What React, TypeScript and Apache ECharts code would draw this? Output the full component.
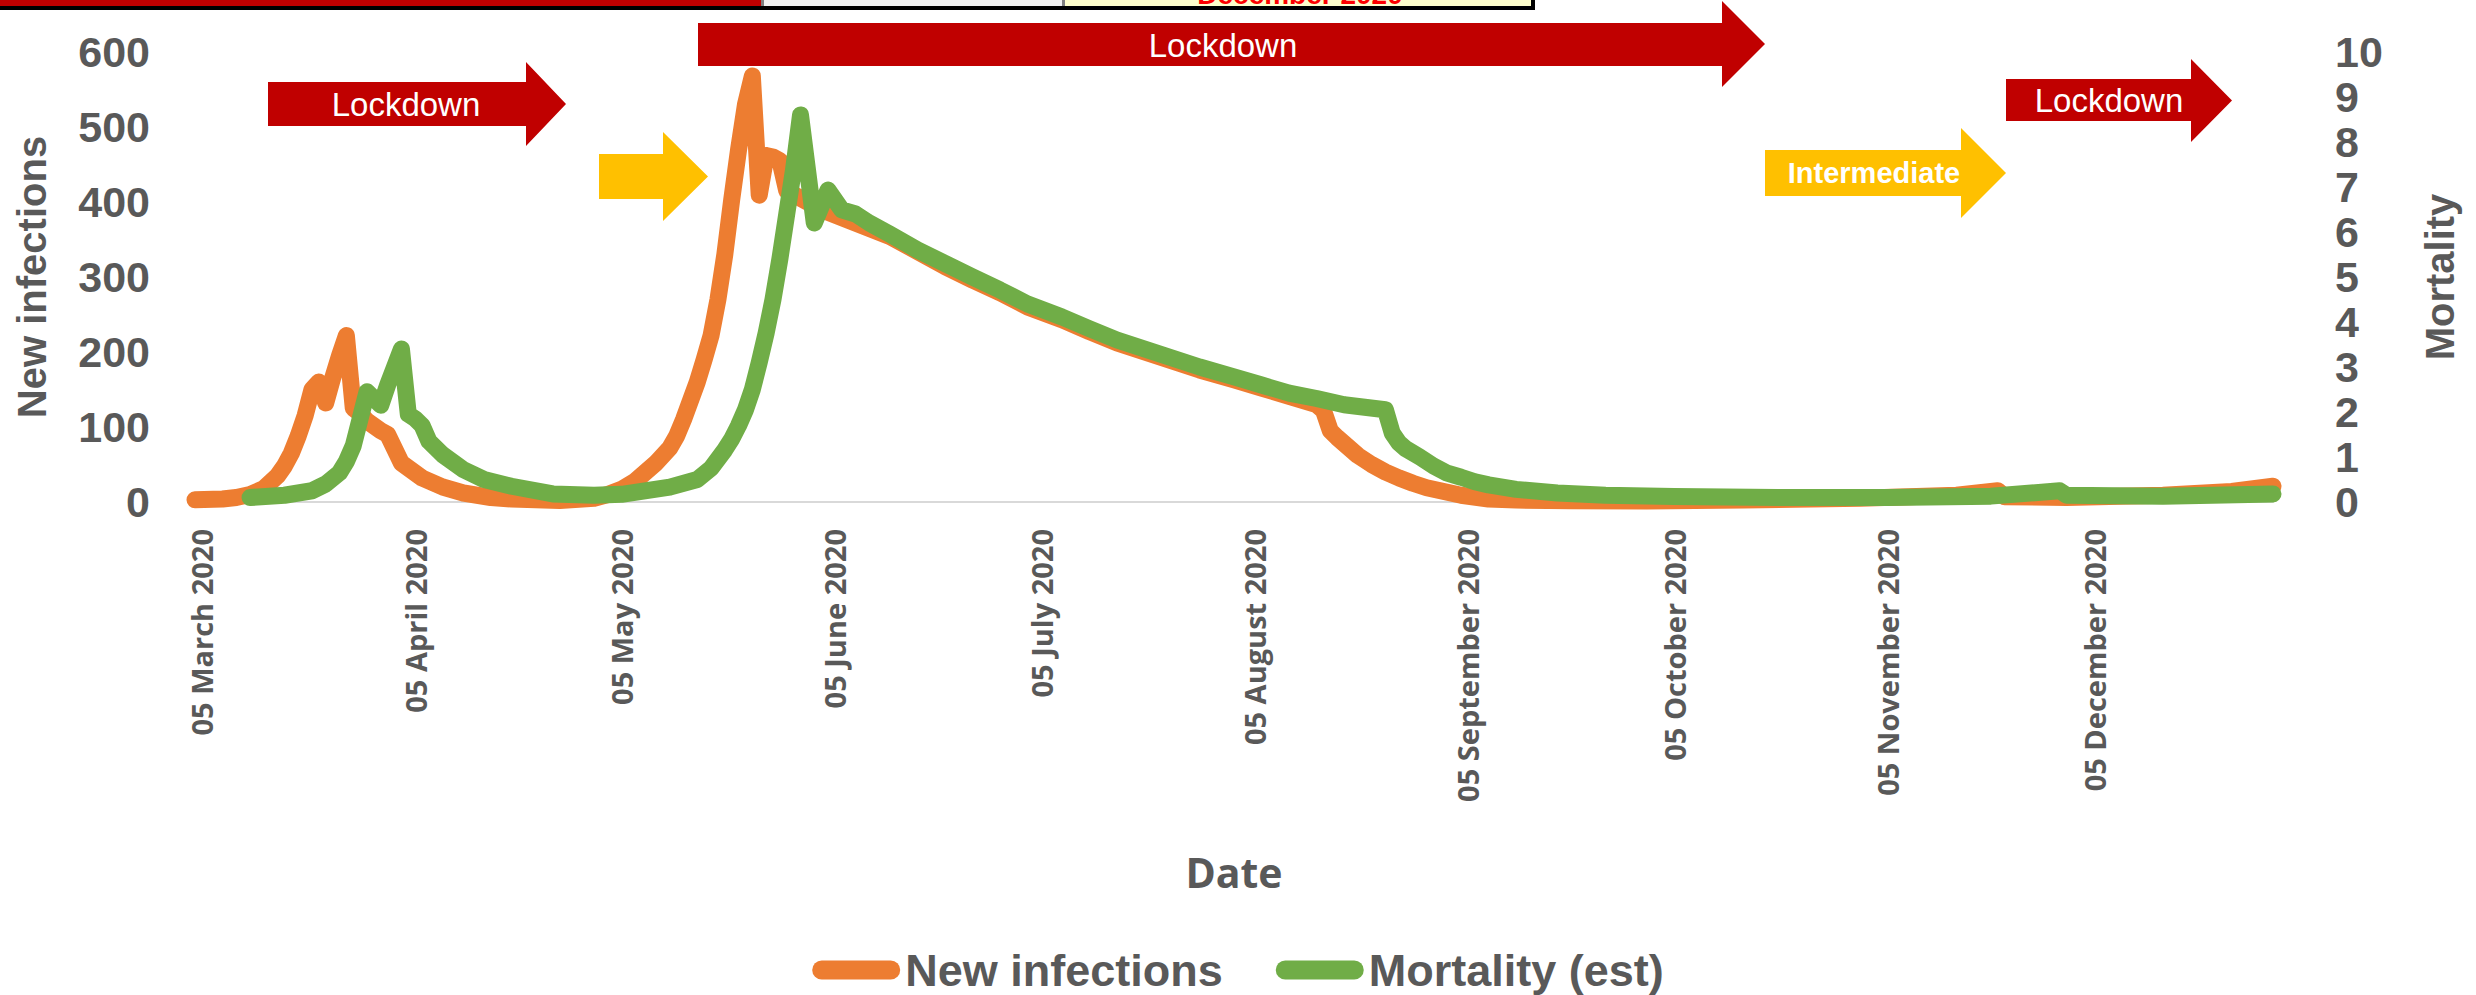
import React, { useEffect, useRef } from 'react';
import * as echarts from 'echarts';

// ---- data ----
const infectionDates = [
  '2020-03-04', '2020-03-08', '2020-03-10', '2020-03-12', '2020-03-14', '2020-03-16', '2020-03-17', '2020-03-18',
  '2020-03-19', '2020-03-20', '2020-03-21', '2020-03-22', '2020-03-23', '2020-03-24', '2020-03-25', '2020-03-26',
  '2020-03-27', '2020-03-28', '2020-03-29', '2020-03-31', '2020-04-01', '2020-04-03', '2020-04-06', '2020-04-09',
  '2020-04-12', '2020-04-16', '2020-04-19', '2020-04-26', '2020-05-01', '2020-05-03', '2020-05-05', '2020-05-07',
  '2020-05-10', '2020-05-12', '2020-05-13', '2020-05-14', '2020-05-15', '2020-05-16', '2020-05-17', '2020-05-18',
  '2020-05-19', '2020-05-20', '2020-05-21', '2020-05-22', '2020-05-23', '2020-05-24', '2020-05-25', '2020-05-26',
  '2020-05-27', '2020-05-28', '2020-05-29', '2020-06-03', '2020-06-08', '2020-06-13', '2020-06-17', '2020-06-21',
  '2020-06-25', '2020-06-29', '2020-07-03', '2020-07-08', '2020-07-12', '2020-07-16', '2020-07-20', '2020-07-24',
  '2020-07-28', '2020-08-02', '2020-08-06', '2020-08-10', '2020-08-14', '2020-08-15', '2020-08-16', '2020-08-17',
  '2020-08-18', '2020-08-20', '2020-08-22', '2020-08-24', '2020-08-26', '2020-08-28', '2020-08-30', '2020-09-01',
  '2020-09-04', '2020-09-08', '2020-09-12', '2020-09-20', '2020-10-01', '2020-10-15', '2020-11-01', '2020-11-15',
  '2020-11-21', '2020-11-22', '2020-12-01', '2020-12-15', '2020-12-25', '2020-12-31',
];
const infectionValues = [
  3, 4, 6, 10, 18, 35, 48, 65,
  88, 115, 150, 160, 132, 165, 195, 222,
  125, 118, 108, 95, 90, 52, 32, 20,
  12, 6, 4, 2, 5, 10, 17, 28,
  52, 72, 88, 110, 135, 160, 190, 222,
  270, 330, 403, 470, 530, 568, 409, 462,
  460, 455, 415, 390, 372, 354, 334, 314,
  296, 279, 260, 243, 227, 212, 200, 188,
  176, 163, 152, 141, 130, 122, 95, 86,
  78, 62, 50, 40, 32, 25, 19, 15,
  9, 4, 2.5, 1.5, 1.5, 2.5, 5, 9,
  15, 7, 6, 9, 14, 21,
];

const mortalityDates = [
  '2020-03-12', '2020-03-17', '2020-03-21', '2020-03-23', '2020-03-25', '2020-03-26', '2020-03-27', '2020-03-28',
  '2020-03-29', '2020-03-30', '2020-03-31', '2020-04-01', '2020-04-02', '2020-04-03', '2020-04-04', '2020-04-05',
  '2020-04-06', '2020-04-07', '2020-04-09', '2020-04-12', '2020-04-15', '2020-04-19', '2020-04-25', '2020-05-01',
  '2020-05-05', '2020-05-12', '2020-05-16', '2020-05-18', '2020-05-20', '2020-05-21', '2020-05-22', '2020-05-23',
  '2020-05-24', '2020-05-25', '2020-05-26', '2020-05-27', '2020-05-28', '2020-05-29', '2020-05-30', '2020-05-31',
  '2020-06-02', '2020-06-04', '2020-06-06', '2020-06-08', '2020-06-10', '2020-06-13', '2020-06-17', '2020-06-21',
  '2020-06-25', '2020-06-29', '2020-07-03', '2020-07-08', '2020-07-12', '2020-07-16', '2020-07-20', '2020-07-24',
  '2020-07-28', '2020-08-02', '2020-08-06', '2020-08-10', '2020-08-14', '2020-08-18', '2020-08-24', '2020-08-25',
  '2020-08-26', '2020-08-27', '2020-08-29', '2020-08-31', '2020-09-02', '2020-09-04', '2020-09-06', '2020-09-08',
  '2020-09-12', '2020-09-18', '2020-09-25', '2020-10-05', '2020-10-20', '2020-11-05', '2020-11-20', '2020-11-30',
  '2020-12-01', '2020-12-15', '2020-12-31',
];
const mortalityValues = [
  0.1, 0.15, 0.25, 0.4, 0.65, 0.9, 1.25, 1.85,
  2.45, 2.3, 2.15, 2.6, 3.0, 3.4, 1.95, 1.85,
  1.7, 1.35, 1.05, 0.72, 0.5, 0.35, 0.18, 0.15,
  0.17, 0.33, 0.5, 0.75, 1.16, 1.4, 1.7, 2.05,
  2.5, 3.1, 3.75, 4.5, 5.4, 6.4, 7.4, 8.6,
  6.2, 6.93, 6.49, 6.4, 6.2, 5.95, 5.6, 5.3,
  5.0, 4.71, 4.4, 4.11, 3.85, 3.6, 3.4, 3.2,
  3.0, 2.78, 2.6, 2.42, 2.3, 2.16, 2.05, 1.53,
  1.31, 1.18, 1.0, 0.8, 0.64, 0.55, 0.45, 0.38,
  0.28, 0.2, 0.15, 0.12, 0.1, 0.1, 0.13, 0.25,
  0.15, 0.13, 0.18,
];

const tickDates = [
  '2020-03-05', '2020-04-05', '2020-05-05', '2020-06-05', '2020-07-05',
  '2020-08-05', '2020-09-05', '2020-10-05', '2020-11-05', '2020-12-05',
];
const monthNames = [
  'January', 'February', 'March', 'April', 'May', 'June',
  'July', 'August', 'September', 'October', 'November', 'December',
];
const leftTicks = [0, 600, 100];
const rightTicks = [0, 10, 1];
const axisStart = '2020-03-04';
const axisEnd = '2020-12-31';

const seriesNames = ['New infections', 'Mortality (est)'];
const seriesColors = ['#ED7D31', '#70AD47'];

function ts(s: string): number {
  const [y, m, d] = s.split('-').map(Number);
  return new Date(y, m - 1, d, 12).getTime();
}

const GREY = '#595959';

export default function App() {
  const ref = useRef<HTMLDivElement>(null);

  useEffect(() => {
    if (!ref.current) return;
    const chart = echarts.init(ref.current, undefined, { renderer: 'svg' });

    const capsule = 'path://M9.5,0 L78.5,0 A9.5,9.5 0 0 1 78.5,19 L9.5,19 A9.5,9.5 0 0 1 9.5,0 Z';

    const arrow = (x0: number, x1: number, yTop: number, yBot: number, hTop: number, hBot: number, tip: number) => {
      const yMid = (hTop + hBot) / 2;
      return [[x0, yTop], [x1, yTop], [x1, hTop], [tip, yMid], [x1, hBot], [x1, yBot], [x0, yBot]];
    };

    const lineSeries = (i: number, dates: string[], values: number[]) => ({
      name: seriesNames[i],
      type: 'line',
      yAxisIndex: i,
      showSymbol: false,
      symbol: 'none',
      itemStyle: { color: seriesColors[i] },
      lineStyle: { color: seriesColors[i], width: 17, cap: 'round', join: 'round' },
      data: dates.map((d, k) => [ts(d), values[k]]),
      z: 2 + i,
    });

    const tickLabel = (margin: number) => ({
      margin,
      showMinLabel: true,
      showMaxLabel: true,
      hideOverlap: false,
      fontFamily: 'Liberation Sans',
      fontWeight: 'bold',
      fontSize: 43,
      lineHeight: 42,
      color: GREY,
    });

    const option: any = {
      animation: false,
      backgroundColor: '#ffffff',
      grid: { left: 195, right: 203, top: 52, bottom: 493, containLabel: false },
      legend: {
        show: true,
        left: 'center',
        top: 947,
        padding: 0,
        itemWidth: 88,
        itemHeight: 19,
        itemGap: 53,
        icon: capsule,
        data: seriesNames.map((n, i) => ({ name: n, itemStyle: { color: seriesColors[i] } })),
        textStyle: { fontFamily: 'Liberation Sans', fontWeight: 'bold', fontSize: 45, lineHeight: 46, color: GREY },
      },
      xAxis: {
        type: 'value',
        min: ts(axisStart),
        max: ts(axisEnd),
        name: 'Date',
        nameLocation: 'middle',
        nameGap: 349,
        nameTextStyle: { fontFamily: 'Open Sans', fontWeight: 'bold', fontSize: 41, color: GREY },
        axisLine: { show: true, onZero: false, lineStyle: { color: '#d9d9d9', width: 2 } },
        axisTick: { show: false },
        splitLine: { show: false },
        axisLabel: {
          customValues: tickDates.map(ts),
          rotate: 90,
          margin: 27,
          hideOverlap: false,
          fontFamily: 'Open Sans',
          fontWeight: 'bold',
          fontSize: 29,
          color: GREY,
          formatter: (v: number) => {
            const d = new Date(v);
            const dd = String(d.getDate()).padStart(2, '0');
            return dd + ' ' + monthNames[d.getMonth()] + ' ' + d.getFullYear();
          },
        },
      },
      yAxis: [
        {
          type: 'value',
          min: leftTicks[0],
          max: leftTicks[1],
          interval: leftTicks[2],
          position: 'left',
          name: 'New infections',
          nameLocation: 'middle',
          nameGap: 143,
          nameTextStyle: { fontFamily: 'Liberation Sans', fontWeight: 'bold', fontSize: 40, color: GREY },
          axisLine: { show: false },
          axisTick: { show: false },
          splitLine: { show: false },
          axisLabel: tickLabel(45),
        },
        {
          type: 'value',
          min: rightTicks[0],
          max: rightTicks[1],
          interval: rightTicks[2],
          position: 'right',
          name: 'Mortality',
          nameLocation: 'middle',
          nameGap: 147,
          nameTextStyle: { fontFamily: 'Liberation Sans', fontWeight: 'bold', fontSize: 40, color: GREY },
          axisLine: { show: false },
          axisTick: { show: false },
          splitLine: { show: false },
          axisLabel: tickLabel(62),
        },
      ],
      series: [
        lineSeries(0, infectionDates, infectionValues),
        lineSeries(1, mortalityDates, mortalityValues),
      ],
      graphic: [
        // cut-off table strip at the very top
        { type: 'rect', shape: { x: 0, y: 0, width: 761, height: 8 }, style: { fill: '#C00000' }, z: 10 },
        { type: 'rect', shape: { x: 761, y: 0, width: 3, height: 8 }, style: { fill: '#808080' }, z: 10 },
        { type: 'rect', shape: { x: 764, y: 0, width: 298, height: 8 }, style: { fill: '#F2F2F2' }, z: 10 },
        { type: 'rect', shape: { x: 1062, y: 0, width: 3, height: 8 }, style: { fill: '#808080' }, z: 10 },
        { type: 'rect', shape: { x: 1065, y: 0, width: 468, height: 8 }, style: { fill: '#FFFFCC' }, z: 10 },
        {
          type: 'text', x: 1300, y: 8, z: 11,
          style: { text: 'December 2020', fill: '#FF0000', font: 'bold 28px "Liberation Sans"', textAlign: 'center', textVerticalAlign: 'bottom' },
        },
        { type: 'rect', shape: { x: 0, y: 6, width: 1535, height: 4 }, style: { fill: '#000000' }, z: 12 },
        { type: 'rect', shape: { x: 1531, y: 0, width: 4, height: 10 }, style: { fill: '#000000' }, z: 12 },

        // Lockdown arrow 1
        { type: 'polygon', shape: { points: arrow(268, 526, 82, 126, 62, 146, 566) }, style: { fill: '#C00000' }, z: 10 },
        {
          type: 'text', x: 406, y: 104, z: 11,
          style: { text: 'Lockdown', fill: '#ffffff', font: '33px "Liberation Sans"', textAlign: 'center', textVerticalAlign: 'middle' },
        },
        // long lockdown arrow
        { type: 'polygon', shape: { points: arrow(698, 1722, 23, 66, 1, 87, 1765) }, style: { fill: '#C00000' }, z: 10 },
        {
          type: 'text', x: 1223, y: 45, z: 11,
          style: { text: 'Lockdown', fill: '#ffffff', font: '33px "Liberation Sans"', textAlign: 'center', textVerticalAlign: 'middle' },
        },
        // small yellow arrow
        { type: 'polygon', shape: { points: arrow(599, 663, 154, 199, 132, 221, 708) }, style: { fill: '#FFC000' }, z: 10 },
        // intermediate arrow
        { type: 'polygon', shape: { points: arrow(1765, 1961, 150, 196, 128, 218, 2006) }, style: { fill: '#FFC000' }, z: 10 },
        {
          type: 'text', x: 1874, y: 173, z: 11,
          style: { text: 'Intermediate', fill: '#ffffff', font: 'bold 29px "Liberation Sans"', textAlign: 'center', textVerticalAlign: 'middle' },
        },
        // last lockdown arrow
        { type: 'polygon', shape: { points: arrow(2006, 2191, 79, 121, 59, 142, 2232) }, style: { fill: '#C00000' }, z: 10 },
        {
          type: 'text', x: 2109, y: 100, z: 11,
          style: { text: 'Lockdown', fill: '#ffffff', font: '33px "Liberation Sans"', textAlign: 'center', textVerticalAlign: 'middle' },
        },
      ],
    };

    chart.setOption(option);
    return () => chart.dispose();
  }, []);

  return (
    <div
      ref={ref}
      style={{ position: 'fixed', left: 0, top: 0, width: 2476, height: 995, background: '#ffffff' }}
    />
  );
}
